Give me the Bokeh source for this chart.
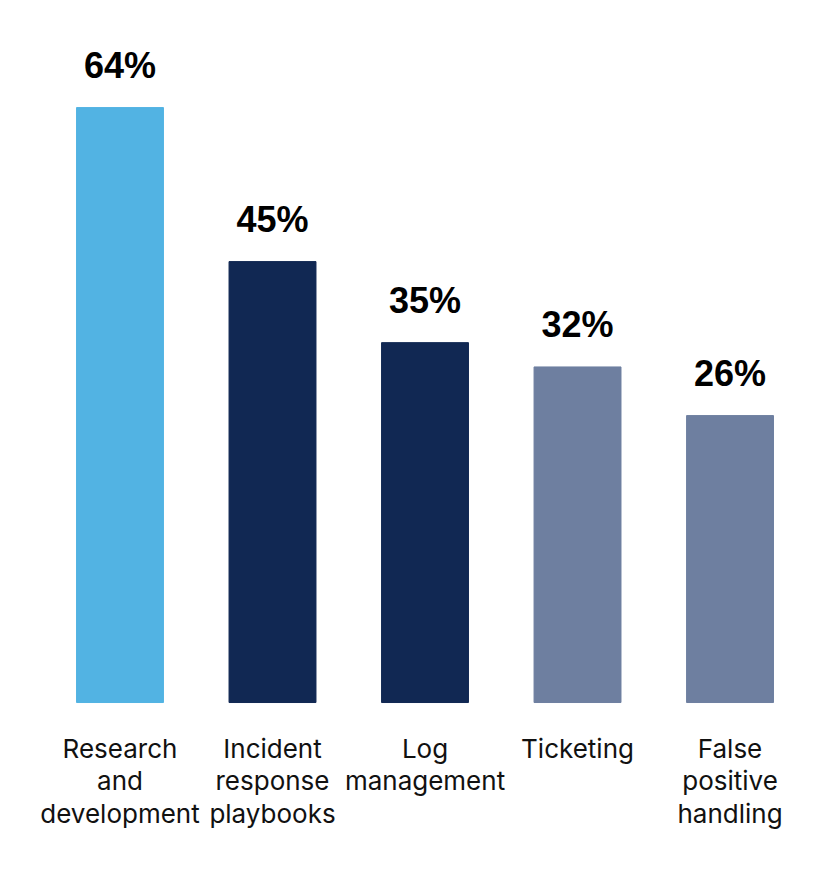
from bokeh.plotting import figure
from bokeh.models import Range1d, ColumnDataSource
from bokeh.core.properties import value
from bokeh.embed import file_html
from bokeh.resources import INLINE

categories = ["Research\nand\ndevelopment", "Incident\nresponse\nplaybooks",
              "Log\nmanagement", "Ticketing", "False\npositive\nhandling"]
values = [64, 45, 35, 32, 26]
labels = ["64%", "45%", "35%", "32%", "26%"]
colors = ["#52B3E3", "#112853", "#112853", "#6E7FA0", "#6E7FA0"]

BASE = -9.4
xs = list(range(len(values)))

src = ColumnDataSource(dict(x=xs, top=values, cat=categories, lab=labels, color=colors))

p = figure(width=816, height=860, output_backend="svg", toolbar_location=None,
           x_range=Range1d(-0.7836, 4.567), y_range=Range1d(-28.89, 77.21),
           min_border=0, min_border_left=0, min_border_right=0,
           min_border_top=0, min_border_bottom=0)
p.axis.visible = False
p.grid.visible = False
p.outline_line_color = None
p.background_fill_color = "white"

p.vbar(x="x", top="top", bottom=BASE, width=0.57, color="color", source=src)

p.text(x="x", y="top", text="lab", source=src, text_align="center",
       text_baseline="bottom", y_offset=-22, text_font=value("Liberation Sans"),
       text_font_style="bold", text_font_size="36px", text_color="#000000")

p.text(x="x", y=BASE, text="cat", source=src, text_align="center",
       text_baseline="top", y_offset=30, text_font=value("Inter"),
       text_font_size="26px", text_color="#111111", text_line_height=1.05)

open("out.html", "w").write(file_html(p, INLINE))
